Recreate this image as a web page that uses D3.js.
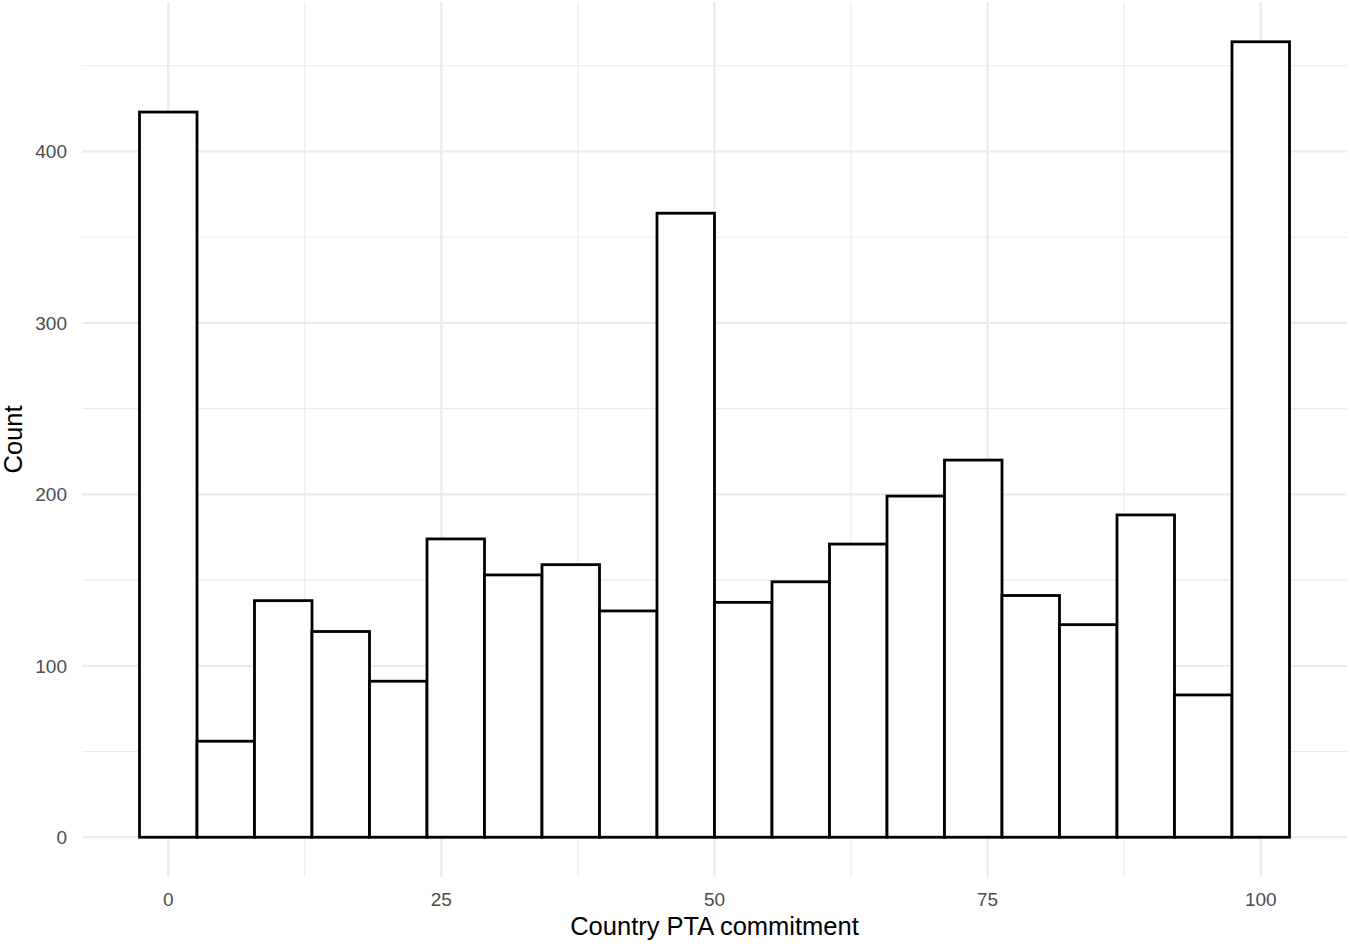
<!DOCTYPE html>
<html><head><meta charset="utf-8">
<script src="https://cdn.jsdelivr.net/npm/d3@7"></script>
<style>body{margin:0;background:#fff}svg{display:block}</style>
</head><body>
<script>
const binCenters = [0,5.263,10.526,15.789,21.053,26.316,31.579,36.842,42.105,47.368,52.632,57.895,63.158,68.421,73.684,78.947,84.211,89.474,94.737,100];
const counts = [423,56,138,120,91,174,153,159,132,364,137,149,171,199,220,141,124,188,83,464];
const xTicks = [0,25,50,75,100];
const yTicks = [0,100,200,300,400];
const binWidth = 100/19;

(function(){
const W=1350,H=944;
const svg=d3.select("body").append("svg").attr("width",W).attr("height",H);
const pL=82,pR=1347,pT=2,pB=877;
const x=d3.scaleLinear().domain([-2.632-5.263,102.632+5.263]).range([pL,pR]);
const y=d3.scaleLinear().domain([-23.2,487.2]).range([pB,pT]);
const font="Liberation Sans, Arial, Helvetica, sans-serif";

const g=svg.append("g");
const xMinor=[12.5,37.5,62.5,87.5], yMinor=[50,150,250,350,450];
g.selectAll(".xm").data(xMinor).enter().append("line").attr("x1",d=>x(d)).attr("x2",d=>x(d)).attr("y1",pT).attr("y2",pB).attr("stroke","#ebebeb").attr("stroke-width",1.1);
g.selectAll(".ym").data(yMinor).enter().append("line").attr("y1",d=>y(d)).attr("y2",d=>y(d)).attr("x1",pL).attr("x2",pR).attr("stroke","#ebebeb").attr("stroke-width",1.1);
g.selectAll(".xM").data(xTicks).enter().append("line").attr("x1",d=>x(d)).attr("x2",d=>x(d)).attr("y1",pT).attr("y2",pB).attr("stroke","#ebebeb").attr("stroke-width",2.2);
g.selectAll(".yM").data(yTicks).enter().append("line").attr("y1",d=>y(d)).attr("y2",d=>y(d)).attr("x1",pL).attr("x2",pR).attr("stroke","#ebebeb").attr("stroke-width",2.2);

g.selectAll("rect.bar").data(counts).enter().append("rect")
 .attr("x",(d,i)=>x(binCenters[i]-binWidth/2))
 .attr("width",(d,i)=>x(binCenters[i]+binWidth/2)-x(binCenters[i]-binWidth/2))
 .attr("y",d=>y(d)).attr("height",d=>y(0)-y(d))
 .attr("fill","#fff").attr("stroke","#000").attr("stroke-width",2.8);

svg.selectAll(".yl").data(yTicks).enter().append("text")
 .attr("x",67).attr("y",d=>y(d)).attr("dy","0.36em").attr("text-anchor","end")
 .attr("font-family",font).attr("font-size",19).attr("fill","#4d4d4d").text(d=>d);
svg.selectAll(".xl").data(xTicks).enter().append("text")
 .attr("x",d=>x(d)).attr("y",905.5).attr("text-anchor","middle")
 .attr("font-family",font).attr("font-size",19).attr("fill","#4d4d4d").text(d=>d);
svg.append("text").attr("x",(pL+pR)/2).attr("y",935).attr("text-anchor","middle")
 .attr("font-family",font).attr("font-size",25.5).attr("fill","#000").text("Country PTA commitment");
svg.append("text").attr("transform",`translate(21.5,${(pT+pB)/2}) rotate(-90)`).attr("text-anchor","middle")
 .attr("font-family",font).attr("font-size",25.5).attr("fill","#000").text("Count");
})();
</script>
</body></html>
